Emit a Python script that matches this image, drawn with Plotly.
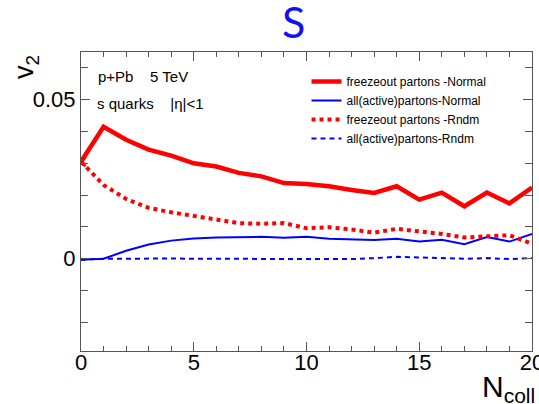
import plotly.graph_objects as go

ncoll = list(range(0, 21))

freeze_normal = [0.0305, 0.0415, 0.0374, 0.0343, 0.0324, 0.0300, 0.0290, 0.0270, 0.0259, 0.0238,
                 0.0235, 0.0228, 0.0216, 0.0207, 0.0228, 0.0186, 0.0208, 0.0165, 0.0208, 0.0174, 0.0224]
active_normal = [-0.0003, 0.0000, 0.0025, 0.0045, 0.0057, 0.0064, 0.0067, 0.0069, 0.0069, 0.0066,
                 0.0069, 0.0063, 0.0060, 0.0059, 0.0063, 0.0054, 0.0060, 0.0046, 0.0068, 0.0054, 0.0078]
freeze_rndm = [0.0305, 0.0232, 0.0188, 0.0160, 0.0146, 0.0134, 0.0121, 0.0112, 0.0110, 0.0112,
               0.0096, 0.0099, 0.0092, 0.0082, 0.0094, 0.0087, 0.0078, 0.0067, 0.0072, 0.0074, 0.0047]
active_rndm = [-0.0003, 0.0000, 0.0000, 0.0001, 0.0001, 0.0000, 0.0000, 0.0000, 0.0000, 0.0001,
               0.0001, 0.0001, -0.0001, 0.0002, 0.0006, 0.0004, 0.0001, 0.0000, 0.0002, -0.0001, 0.0002]

names = ["freezeout partons -Normal", "all(active)partons-Normal",
         "freezeout partons -Rndm", "all(active)partons-Rndm"]

RED = "#ff0000"
BLUE = "#0000ff"

fig = go.Figure()
fig.add_trace(go.Scatter(x=ncoll, y=freeze_normal, mode="lines", name=names[0],
                         line=dict(color=RED, width=4.5)))
fig.add_trace(go.Scatter(x=ncoll, y=active_normal, mode="lines", name=names[1],
                         line=dict(color=BLUE, width=2)))
fig.add_trace(go.Scatter(x=ncoll, y=freeze_rndm, mode="lines", name=names[2],
                         line=dict(color=RED, width=4, dash="dot")))
fig.add_trace(go.Scatter(x=ncoll, y=active_rndm, mode="lines", name=names[3],
                         line=dict(color=BLUE, width=2, dash="5px,4px")))
fig.add_trace(go.Scatter(x=ncoll[:1], y=freeze_rndm[:1], mode="markers", showlegend=False,
                         marker=dict(symbol="x-thin", size=9, line=dict(color=RED, width=3))))

axcol = "#555555"
tickfont = dict(family="Liberation Sans, Arial", size=22, color="black")

fig.update_xaxes(range=[0, 20], showline=True, linecolor=axcol, linewidth=1.2, mirror="allticks",
                 ticks="inside", ticklen=9, tickcolor=axcol, dtick=5, tick0=0, automargin=False,
                 ticklabeloverflow="allow", ticklabelstandoff=-9,
                 minor=dict(dtick=1, ticks="inside", ticklen=5, tickcolor=axcol),
                 showgrid=False, zeroline=False, tickfont=tickfont)
fig.update_yaxes(range=[-0.029, 0.065], showline=True, linecolor=axcol, linewidth=1.2, mirror="allticks",
                 ticks="inside", ticklen=9, tickcolor=axcol, dtick=0.05, tick0=0, automargin=False,
                 tickvals=[0, 0.05], ticktext=["0", "0.05"],
                 minor=dict(dtick=0.01, tick0=0, ticks="inside", ticklen=7, tickcolor=axcol),
                 showgrid=False, zeroline=False, tickfont=tickfont)

fig.update_layout(
    width=539, height=404,
    margin=dict(l=81, r=7, t=52, b=53, autoexpand=False),
    paper_bgcolor="white", plot_bgcolor="white",
    showlegend=True,
    legend=dict(x=0.5, y=0.95, xanchor="left", yanchor="top", bgcolor="rgba(0,0,0,0)",
                font=dict(family="Liberation Sans, Arial", size=12, color="black"),
                tracegroupgap=0, itemwidth=30),
    annotations=[
        dict(text="S", xref="paper", yref="paper", x=0.472, y=1, yshift=31, showarrow=False,
             font=dict(family="Lato, Open Sans", size=43, color="#1010ff"), xanchor="center", yanchor="middle"),
        dict(text="v<sub>2</sub>", xref="paper", yref="paper", x=0, xshift=-55, y=1, yshift=-15,
             showarrow=False, textangle=-90, font=dict(family="Liberation Sans, Arial", size=27, color="black"),
             xanchor="center", yanchor="middle"),
        dict(text="N<sub>coll</sub>", xref="paper", yref="paper", x=1, xshift=-52, y=0, yshift=-17,
             showarrow=False, font=dict(family="Liberation Sans, Arial", size=30, color="black"),
             xanchor="left", yanchor="top"),
        dict(text="p+Pb    5 TeV", xref="paper", yref="paper", x=0, xshift=15, y=1, yshift=-24,
             showarrow=False, font=dict(family="Liberation Sans, Arial", size=15, color="black"),
             xanchor="left", yanchor="middle"),
        dict(text="s quarks    |η|<1", xref="paper", yref="paper", x=0, xshift=14, y=1, yshift=-51,
             showarrow=False, font=dict(family="Liberation Sans, Arial", size=15, color="black"),
             xanchor="left", yanchor="middle"),
    ],
)

fig.write_html("out.html")
